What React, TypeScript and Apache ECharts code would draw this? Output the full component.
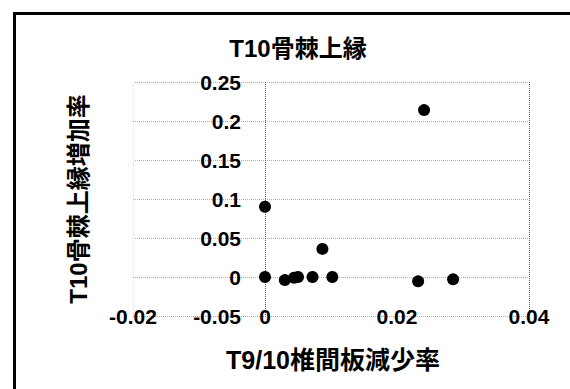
import React, { useEffect, useRef } from "react";
import * as echarts from "echarts";

const chartTitle = "T10骨棘上縁";
const xAxisTitle = "T9/10椎間板減少率";
const yAxisTitle = "T10骨棘上縁増加率";

const xValues = [0, 0, 0.0087, 0.003, 0.0044, 0.005, 0.0072, 0.0102, 0.0232, 0.0285, 0.0241];
const yValues = [0.09, 0.0, 0.036, -0.004, -0.001, 0.0, 0.0, 0.0, -0.0056, -0.003, 0.214];

const xMin = -0.02;
const xMax = 0.04;
const xStep = 0.02;
const yMin = -0.05;
const yMax = 0.25;
const yStep = 0.05;

const FONT = "'Liberation Sans', 'Noto Sans CJK JP', sans-serif";

export default function App() {
  const ref = useRef<HTMLDivElement>(null);

  useEffect(() => {
    document.body.style.margin = "0";
    const chart = echarts.init(ref.current!, undefined, { renderer: "svg" });
    const points = xValues.map((x, i) => [x, yValues[i]]);
    chart.setOption({
      animation: false,
      backgroundColor: "#ffffff",
      grid: { left: 133, right: 41, top: 82, bottom: 73 },
      xAxis: {
        type: "value",
        min: xMin,
        max: xMax,
        interval: xStep,
        axisLine: { show: false, onZero: false },
        axisTick: { show: false },
        axisLabel: {
          margin: -10,
          color: "#000",
          fontSize: 21,
          fontWeight: "bold",
          fontFamily: FONT,
        },
        splitLine: {
          show: true,
          lineStyle: {
            type: "dotted",
            width: 1,
            color: ["#e2e2e2", "#555555", "rgba(0,0,0,0)", "#555555"],
          },
        },
      },
      yAxis: {
        type: "value",
        position: "left",
        offset: -132,
        min: yMin,
        max: yMax,
        interval: yStep,
        axisLine: { show: false, onZero: false },
        axisTick: { show: false },
        axisLabel: {
          margin: 24,
          color: "#000",
          fontSize: 21,
          fontWeight: "bold",
          fontFamily: FONT,
        },
        splitLine: {
          show: true,
          lineStyle: { type: "dotted", width: 1, color: "#b0b0b0" },
        },
      },
      series: [
        {
          type: "scatter",
          data: points,
          symbol: "circle",
          symbolSize: 12,
          itemStyle: { color: "#000", opacity: 1 },
        },
      ],
      graphic: [
        { type: "rect", shape: { x: 13, y: 12, width: 557, height: 3 }, style: { fill: "#000" } },
        { type: "rect", shape: { x: 13, y: 12, width: 3, height: 377 }, style: { fill: "#000" } },
        {
          type: "text",
          x: 298,
          y: 48,
          style: {
            text: chartTitle,
            align: "center",
            verticalAlign: "middle",
            fontSize: 24,
            fontWeight: "bold",
            fontFamily: FONT,
            fill: "#000",
          },
        },
        {
          type: "text",
          x: 333,
          y: 360,
          style: {
            text: xAxisTitle,
            align: "center",
            verticalAlign: "middle",
            fontSize: 25,
            fontWeight: "bold",
            fontFamily: FONT,
            fill: "#000",
          },
        },
        {
          type: "text",
          x: 78,
          y: 199,
          rotation: Math.PI / 2,
          style: {
            text: yAxisTitle,
            align: "center",
            verticalAlign: "middle",
            fontSize: 24,
            fontWeight: "bold",
            fontFamily: FONT,
            fill: "#000",
          },
        },
      ],
    });
    return () => chart.dispose();
  }, []);

  return <div ref={ref} style={{ width: 570, height: 389 }} />;
}
